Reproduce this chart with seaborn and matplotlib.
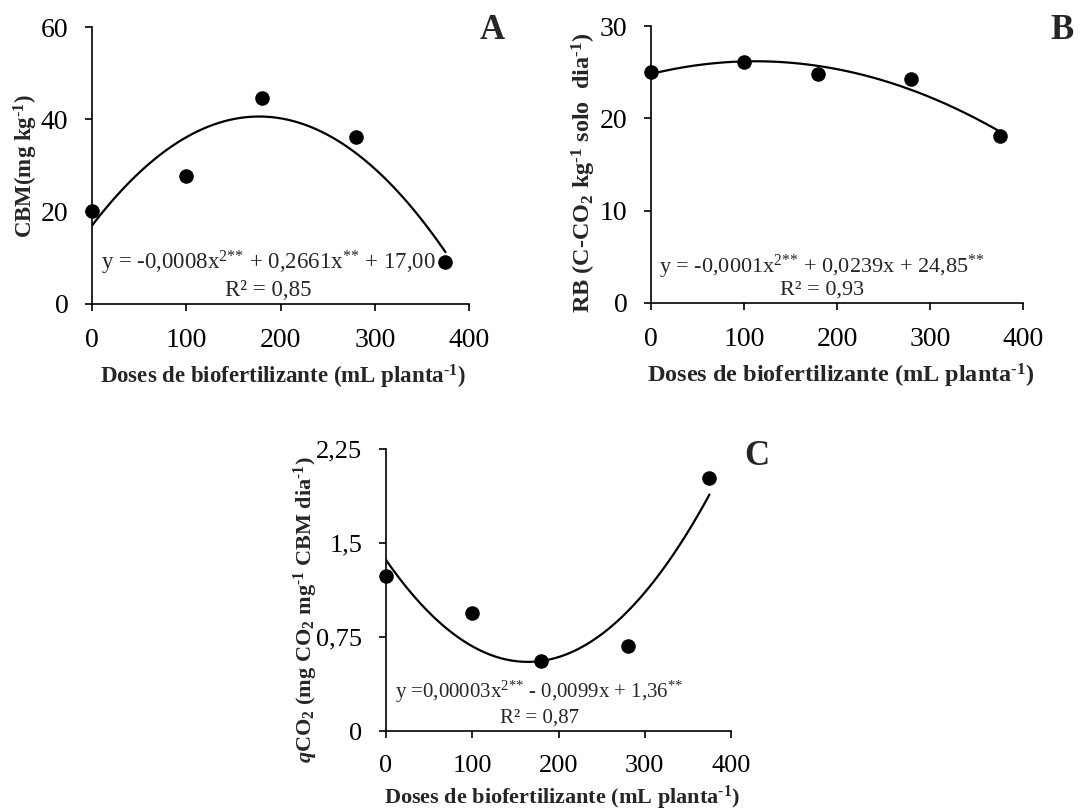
import matplotlib
matplotlib.use('Agg')
import matplotlib.pyplot as plt
import pandas as pd
import seaborn as sns

# ── data ────────────────────────────────────────────────────────────────────
DOSES = [0, 100, 180, 280, 375]
CBM = [20.2, 27.7, 44.6, 36.1, 9.0]
RB = [25.0, 26.1, 24.8, 24.3, 18.1]
QCO2 = [1.24, 0.94, 0.56, 0.68, 2.02]

CBM_TICKS = [0, 20, 40, 60]
RB_TICKS = [0, 10, 20, 30]
QCO2_TICKS = [0, 0.75, 1.5, 2.25]
QCO2_TICK_LABELS = ['0', '0,75', '1,5', '2,25']
X_TICKS = [0, 100, 200, 300, 400]

SUP = '$^{\\mathbf{\u20101}}$'  # bold superscript "-1" with a hyphen
SUB2 = r'$_{\mathbf{2}}$'
XLABEL = 'Doses de biofertilizante (mL planta' + SUP + ')'
STARS = r'{*}{*}'

sns.set_theme(style='white')
plt.rcParams['font.family'] = ['Liberation Serif', 'DejaVu Serif']
plt.rcParams['mathtext.fontset'] = 'custom'
plt.rcParams['mathtext.rm'] = 'Liberation Serif'
plt.rcParams['mathtext.it'] = 'Liberation Serif:italic'
plt.rcParams['mathtext.bf'] = 'Liberation Serif:bold'
plt.rcParams['mathtext.bfit'] = 'Liberation Serif:bold:italic'


def _panel(ax, y, yticks, ytick_labels, ylabel, ylabel_xy, xlabel_xy,
           eq, r2, eq_xy, r2_xy, tick_size, label_size, eq_size):
    frame = pd.DataFrame({'dose': DOSES, 'y': y})
    sns.regplot(data=frame, x='dose', y='y', order=2, ci=None, truncate=True,
                scatter=False, color='black', line_kws={'linewidth': 1.6}, ax=ax)
    sns.scatterplot(data=frame, x='dose', y='y', color='black', s=110,
                    edgecolor='black', linewidth=0, zorder=3, ax=ax)
    ax.set_xlim(0, 400)
    ax.set_ylim(yticks[0], yticks[-1])
    ax.set_xticks(X_TICKS)
    ax.set_yticks(yticks)
    ax.set_yticklabels(ytick_labels)
    ax.tick_params(axis='both', direction='out', length=5, width=1.2,
                   labelsize=tick_size, colors='black', pad=12,
                   bottom=True, left=True)
    sns.despine(ax=ax)
    for side in ('left', 'bottom'):
        ax.spines[side].set_color('black')
        ax.spines[side].set_linewidth(1.2)
    ax.set_xlabel(XLABEL, fontsize=label_size, fontweight='bold', va='center')
    ax.set_ylabel(ylabel, fontsize=label_size, fontweight='bold', va='center')
    ax.xaxis.set_label_coords(*xlabel_xy)
    ax.yaxis.set_label_coords(*ylabel_xy)
    ax.text(*eq_xy, eq, ha='center', va='center', fontsize=eq_size)
    ax.text(*r2_xy, r2, ha='center', va='center', fontsize=eq_size)
    for coll in ax.collections:
        coll.set_clip_on(False)


fig = plt.figure(figsize=(10.87, 8.11), dpi=100)
ax_a = fig.add_axes([0.0846, 0.6252, 0.3469, 0.3415])
ax_b = fig.add_axes([0.5989, 0.6264, 0.3422, 0.3415])
ax_c = fig.add_axes([0.3551, 0.0986, 0.3174, 0.3478])

_panel(ax_a, CBM, CBM_TICKS, [str(t) for t in CBM_TICKS],
       'CBM(mg kg' + SUP + ')', (-0.176, 0.498), (0.507, -0.264),
       'y = -0,0008x$^{2' + STARS + '}$ + 0,2661x$^{' + STARS + '}$ + 17,00',
       'R² = 0,85', (187, 8.9), (187, 3.0), 20, 16.5, 16.5)
_panel(ax_b, RB, RB_TICKS, [str(t) for t in RB_TICKS],
       'RB (C-CO' + SUB2 + ' kg' + SUP + ' solo  dia' + SUP + ')',
       (-0.18, 0.47), (0.51, -0.265),
       'y = -0,0001x$^{2' + STARS + '}$ + 0,0239x + 24,85$^{' + STARS + '}$',
       'R² = 0,93', (184, 3.9), (184, 1.4), 20, 17.5, 16)
_panel(ax_c, QCO2, QCO2_TICKS, QCO2_TICK_LABELS,
       r'$\mathbfit{q}$CO' + SUB2 + ' (mg CO' + SUB2 + ' mg' + SUP + ' CBM dia' + SUP + ')',
       (-0.232, 0.43), (0.51, -0.238),
       'y =0,00003x$^{2' + STARS + '}$ - 0,0099x + 1,36$^{' + STARS + '}$',
       'R² = 0,87', (178, 0.311), (178, 0.104), 19, 16, 15)

for letter, x, y in (('A', 0.4526, 0.963), ('B', 0.977, 0.963), ('C', 0.6964, 0.4365)):
    fig.text(x, y, letter, fontsize=25, fontweight='bold', ha='center', va='center')

fig.savefig('out.png', dpi=100)
